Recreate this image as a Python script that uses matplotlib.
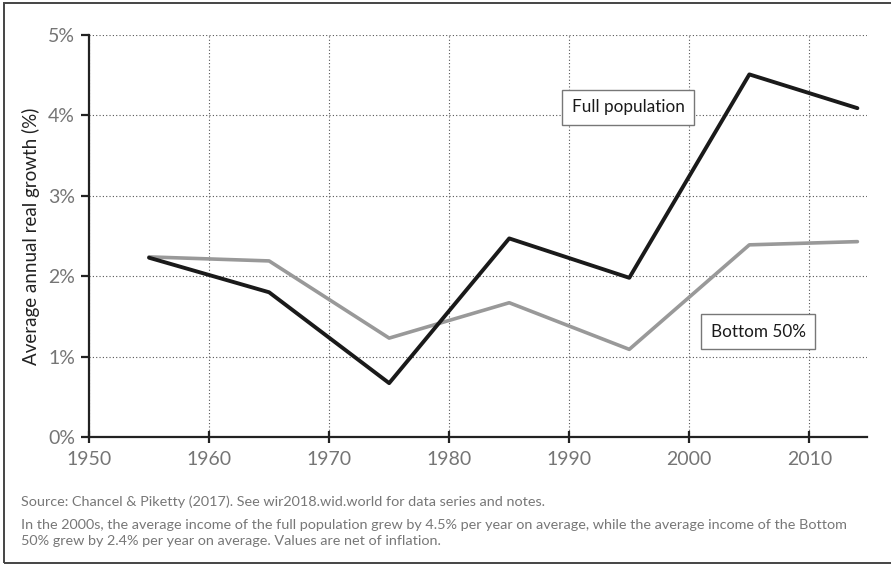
import matplotlib
matplotlib.use("Agg")
import matplotlib.pyplot as plt
from matplotlib.patches import Rectangle

# data (% per year)
years = [1955, 1965, 1975, 1985, 1995, 2005, 2014]
full_pop = [2.23, 1.80, 0.67, 2.47, 1.98, 4.51, 4.09]
bottom50 = [2.24, 2.19, 1.23, 1.67, 1.09, 2.39, 2.43]
x_ticks = [1950, 1960, 1970, 1980, 1990, 2000, 2010]
y_ticks = [0, 1, 2, 3, 4, 5]

source = "Source: Chancel & Piketty (2017). See wir2018.wid.world for data series and notes."
note = ("In the 2000s, the average income of the full population grew by 4.5% per year on average, while the average income of the Bottom\n"
        "50% grew by 2.4% per year on average. Values are net of inflation.")

plt.rcParams['font.family'] = ['Lato', 'DejaVu Sans']

fig = plt.figure(figsize=(8.91, 5.64), dpi=100)
ax = fig.add_axes([89/891, 1 - 437/564, (867-89)/891, (437-35)/564])

ax.plot(years, bottom50, color='#999999', lw=2.6, solid_capstyle='round', zorder=3)
ax.plot(years, full_pop, color='#1a1a1a', lw=2.8, solid_capstyle='round', zorder=4)

ax.set_xlim(1950, 2014.8)
ax.set_ylim(0, 5)
ax.set_xticks(x_ticks)
ax.set_yticks(y_ticks)
ax.set_yticklabels([f"{v}%" for v in y_ticks])
ax.grid(True, linestyle=(0, (1, 2)), color='#555555', lw=0.8)
ax.set_axisbelow(True)

for s in ['top', 'right']:
    ax.spines[s].set_visible(False)
for s in ['left', 'bottom']:
    ax.spines[s].set_color('#222222')
    ax.spines[s].set_linewidth(1.6)

ax.tick_params(axis='y', direction='out', length=6, width=1.6, color='#222222',
               labelsize=14, labelcolor='#757575', pad=4)
ax.tick_params(axis='x', direction='inout', length=8, width=1.6, color='#222222',
               labelsize=14, labelcolor='#757575', pad=6)

ax.set_ylabel("Average annual real growth (%)", fontsize=13.5, color='#222222', labelpad=6)

box = dict(boxstyle='square,pad=0.55', facecolor='white', edgecolor='#777777', lw=1)
ax.text(1994.9, 4.10, "Full population", fontsize=12.3, color='#1a1a1a',
        ha='center', va='center', bbox=box, zorder=5)
ax.text(2005.75, 1.31, "Bottom 50%", fontsize=12.3, color='#1a1a1a',
        ha='center', va='center', bbox=box, zorder=5)

fig.text(21/891, 1 - 502/564, source, fontsize=10.4, color='#777777', va='center')
fig.text(21/891, 1 - 533/564, note, fontsize=10.4, color='#777777', va='center', linespacing=1.45)

fig.patches.append(Rectangle((4/891, 1 - 563/564), 1.0, 560/564, transform=fig.transFigure,
                             fill=False, edgecolor='#444444', lw=1.4))

fig.savefig("out.png", dpi=100)
